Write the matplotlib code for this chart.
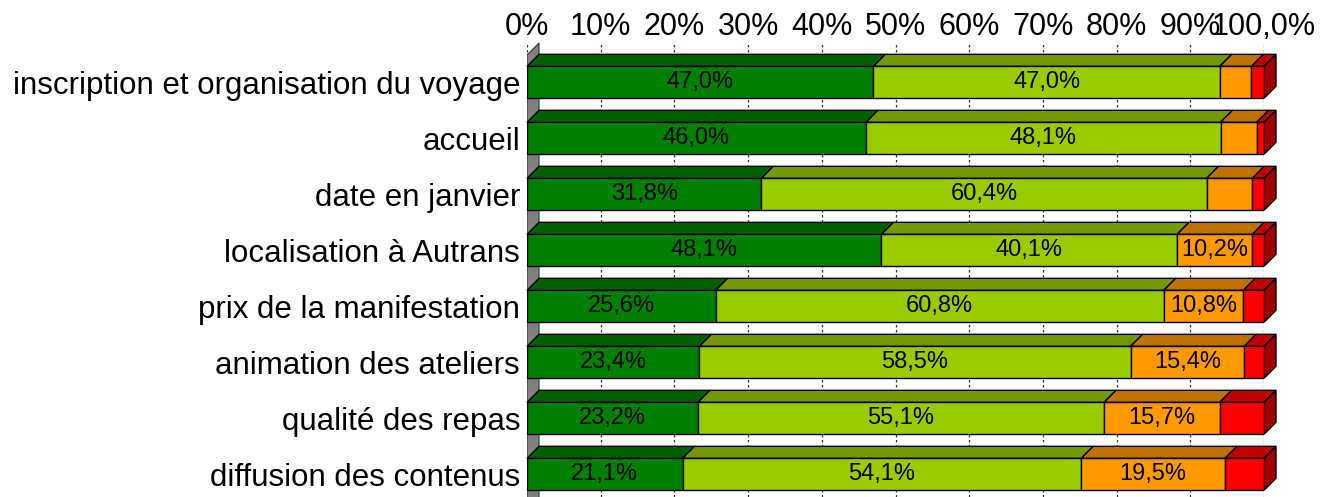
import matplotlib
matplotlib.use("Agg")
import matplotlib.pyplot as plt
from matplotlib.patches import Polygon
import numpy as np

plt.rcParams['font.family'] = ['Liberation Sans', 'DejaVu Sans']

categories = [
    "inscription et organisation du voyage",
    "accueil",
    "date en janvier",
    "localisation à Autrans",
    "prix de la manifestation",
    "animation des ateliers",
    "qualité des repas",
    "diffusion des contenus",
]
tres_satisfait = [47.0, 46.0, 31.8, 48.1, 25.6, 23.4, 23.2, 21.1]
satisfait = [47.0, 48.1, 60.4, 40.1, 60.8, 58.5, 55.1, 54.1]
peu_satisfait = [4.3, 4.9, 6.2, 10.2, 10.8, 15.4, 15.7, 19.5]
pas_satisfait = [1.7, 1.0, 1.6, 1.6, 2.8, 2.7, 6.0, 5.3]

tick_vals = [0, 10, 20, 30, 40, 50, 60, 70, 80, 90, 100]
tick_labels = ["0%", "10%", "20%", "30%", "40%", "50%", "60%", "70%", "80%", "90%", "100,0%"]

series = [tres_satisfait, satisfait, peu_satisfait, pas_satisfait]
front_cols = ["#008000", "#99cc00", "#ff9900", "#ff0000"]
top_cols = ["#006000", "#729900", "#bf7200", "#c00000"]
side_col = "#a00000"

W, H = 1322, 497
fig = plt.figure(figsize=(W / 100, H / 100), dpi=100)
x0_px, x1_px, top_px = 527, 1264, 42
ax = fig.add_axes([x0_px / W, 0, (x1_px - x0_px) / W, 1 - top_px / H])

n = len(categories)
pitch = 56.0
h = 32 / pitch
dx = 12 / (x1_px - x0_px) * 100
dy = 12 / pitch
ax.set_xlim(0, 100)
ax.set_ylim(n - 1 + 0.405, -0.72)

# left wall
wall = Polygon([(0, -0.4875), (dx, -0.4875 - dy), (dx, n + 1), (0, n + 1)],
               closed=True, facecolor="#808080", edgecolor="#333333", lw=0.8, zorder=1)
ax.add_patch(wall)

for t in tick_vals:
    ax.axvline(t, color="#333333", lw=0.9, ls=(0, (2, 2)), zorder=0.5)

y = np.arange(n)
left = np.zeros(n)
for k, vals in enumerate(series):
    vals = np.array(vals)
    ax.barh(y, vals, left=left, height=h, color=front_cols[k],
            edgecolor="black", lw=1.0, zorder=3)
    for i in range(n):
        xa, xb = left[i], left[i] + vals[i]
        yt = i - h / 2
        top = Polygon([(xa, yt), (xb, yt), (xb + dx, yt - dy), (xa + dx, yt - dy)],
                      closed=True, facecolor=top_cols[k], edgecolor="black",
                      lw=1.0, zorder=2, clip_on=False)
        ax.add_patch(top)
        if k == len(series) - 1:
            side = Polygon([(xb, yt), (xb + dx, yt - dy), (xb + dx, yt + h - dy), (xb, yt + h)],
                           closed=True, facecolor=side_col, edgecolor="black",
                           lw=1.0, zorder=2, clip_on=False)
            ax.add_patch(side)
        if vals[i] >= 10:
            ax.text(xa + vals[i] / 2, i, f"{vals[i]:.1f}%".replace(".", ","),
                    ha="center", va="center", fontsize=17, color="black", zorder=4)
    left = left + vals

ax.xaxis.tick_top()
ax.set_xticks(tick_vals)
ax.set_xticklabels(tick_labels, fontsize=22)
ax.set_yticks(y)
ax.set_yticklabels(categories, fontsize=22.5)
ax.tick_params(axis="both", length=0)
ax.tick_params(axis="x", pad=0)
ax.tick_params(axis="y", pad=5)
for s in ax.spines.values():
    s.set_visible(False)

fig.savefig("out.png", dpi=100)
